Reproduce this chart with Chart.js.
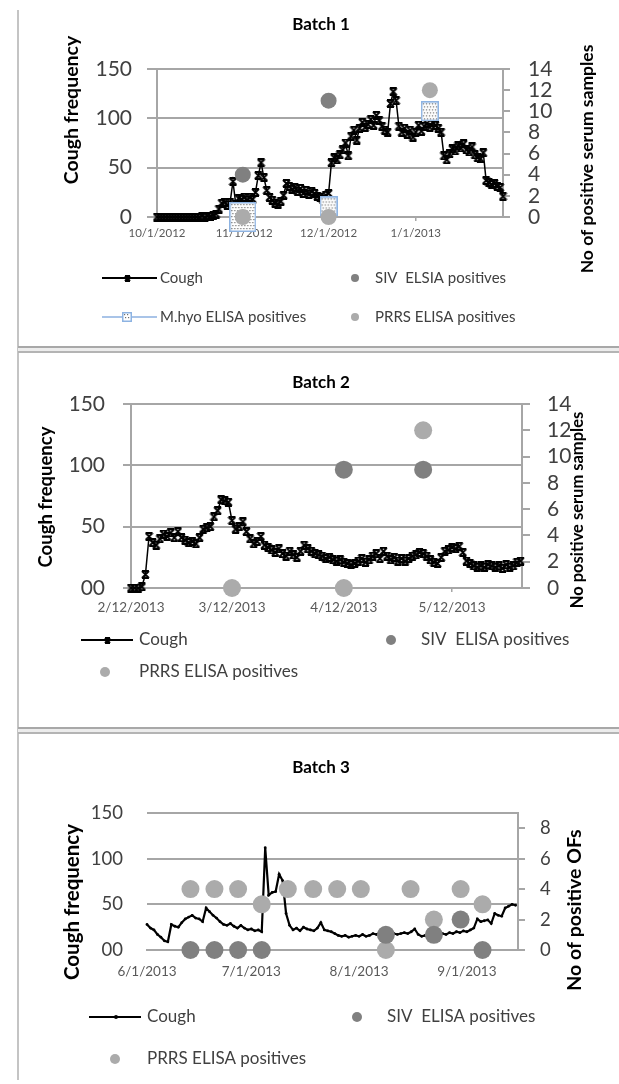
<!DOCTYPE html>
<html>
<head>
<meta charset="utf-8">
<script src="https://cdn.jsdelivr.net/npm/chart.js@4.4.0/dist/chart.umd.min.js"></script>
<style>
html, body { margin: 0; padding: 0; background: #fff; }
#page { position: relative; width: 619px; height: 1084px; overflow: hidden; }
canvas { position: absolute; left: 0; }
.vline { position: absolute; left: 17px; top: 10px; width: 2px; height: 1070px; background: #c4c4c4; }
.sep { position: absolute; left: 18px; width: 601px; height: 7px; box-sizing: border-box;
       border-top: 2px solid #a8a8a8; border-bottom: 2px solid #b4b4b4; background: #ececec; }
</style>
</head>
<body>
<div id="page">
  <canvas id="batch1" width="619" height="345" style="top:0px"></canvas>
  <canvas id="batch2" width="619" height="372" style="top:354px"></canvas>
  <canvas id="batch3" width="619" height="348" style="top:736px"></canvas>
  <div class="vline"></div>
  <div class="sep" style="top:346px"></div>
  <div class="sep" style="top:727px"></div>
</div>
<script>
// ---------- data (x = days since first date label) ----------
const leftTicks = [0, 50, 100, 150];
const leftLabels1 = ['0', '50', '100', '150'];
const leftLabels23 = ['00', '50', '100', '150'];
const serumTicks = [0, 2, 4, 6, 8, 10, 12, 14];
const ofTicks = [0, 2, 4, 6, 8];

// Batch 1
const b1DateLabels = ['10/1/2012', '11/1/2012', '12/1/2012', '1/1/2013'];
const b1DateDays = [0, 31, 61, 92];
const b1Cough = [
  0, 0, 0, 0, 0, 0, 0, 0, 0, 0, 0, 0, 0, 0, 0, 0, 1, 0, 1, 1,
  2, 3, 8, 14, 15, 12, 15, 36, 13, 19, 18, 20, 17, 20, 18, 25, 42, 55, 40, 27,
  20, 17, 14, 13, 16, 22, 34, 31, 28, 30, 26, 29, 24, 27, 23, 26, 24, 21, 20, 18,
  22, 24, 55, 60, 58, 63, 68, 75, 62, 82, 88, 78, 90, 96, 91, 94, 99, 93, 103, 98,
  92, 88, 86, 115, 127, 118, 92, 86, 90, 84, 88, 81, 86, 93, 87, 92, 95, 91, 96, 93,
  90, 86, 62, 58, 64, 69, 67, 72, 70, 74, 68, 66, 71, 63, 60, 59, 65, 37, 35, 33,
  34, 31, 30, 21
];
const b1SivDays = [30.5, 61];
const b1SivVals = [4, 11];
const b1MhyoDays = [30.5, 61, 97];
const b1MhyoVals = [0, 1, 10];
const b1PrrsDays = [30.5, 61, 97];
const b1PrrsVals = [0, 0, 12];

// Batch 2
const b2DateLabels = ['2/12/2013', '3/12/2013', '4/12/2013', '5/12/2013'];
const b2DateDays = [0, 28, 59, 89];
const b2Cough = [
  0, 0, 0, 1, 11, 42, 37, 35, 40, 44, 42, 45, 41, 46, 41, 39, 37, 38, 36, 41,
  48, 49, 50, 58, 63, 72, 71, 70, 55, 48, 50, 54, 46, 40, 36, 38, 42, 35, 33, 31,
  29, 32, 28, 26, 30, 27, 25, 30, 35, 32, 30, 28, 27, 26, 24, 25, 23, 22, 23, 21,
  20, 19, 20, 22, 24, 21, 23, 26, 28, 24, 30, 26, 23, 25, 22, 24, 22, 24, 26, 27,
  29, 28, 26, 23, 21, 20, 25, 30, 31, 33, 32, 34, 29, 22, 20, 18, 17, 18, 17, 19,
  18, 17, 18, 16, 19, 17, 18, 21, 22
];
const b2SivDays = [59, 81];
const b2SivVals = [9, 9];
const b2PrrsDays = [28, 59, 81];
const b2PrrsVals = [0, 0, 12];

// Batch 3
const b3DateLabels = ['6/1/2013', '7/1/2013', '8/1/2013', '9/1/2013'];
const b3DateDays = [0, 30, 61, 92];
const b3Cough = [
  28, 24, 22, 17, 14, 10, 9, 28, 26, 25, 30, 34, 36, 38, 35, 34, 31, 46, 42, 38,
  35, 31, 28, 27, 29, 26, 24, 27, 24, 22, 23, 21, 22, 20, 112, 60, 63, 64, 83, 76,
  40, 27, 22, 24, 21, 25, 23, 22, 21, 24, 30, 22, 21, 20, 18, 16, 15, 16, 14, 15,
  16, 15, 17, 15, 16, 18, 17, 19, 18, 17, 19, 18, 17, 18, 19, 18, 20, 23, 17, 15,
  16, 14, 16, 18, 17, 18, 17, 19, 18, 20, 19, 21, 20, 22, 24, 34, 31, 32, 33, 29,
  40, 38, 37, 46, 48, 50, 49
];
const b3SampleDays = [12.5, 19.4, 26.2, 33, 40.5, 47.8, 54.7, 61.5, 68.7, 75.8, 82.5, 90.2, 96.5];
const b3PrrsVals = [4, 4, 4, 3, 4, 4, 4, 4, 0, 4, 2, 4, 3];
const b3SivVals = [0, 0, 0, 0, null, null, null, null, 1, null, 1, 2, 0];

// ---------- styling helpers ----------
const GRID = '#a6a6a6';
const SIV = '#808080';
const PRRS = '#ababab';
const MHYO = '#8db3e2';
const FONT = 'Lato';

function series(vals) { return vals.map((v, i) => ({ x: i, y: v })); }
function pairs(days, vals) { return days.map((d, i) => ({ x: d, y: vals[i] })); }

function makeXMark(size, lw) {
  const c = document.createElement('canvas');
  c.width = size; c.height = size;
  const g = c.getContext('2d');
  g.strokeStyle = '#000'; g.lineWidth = lw;
  g.beginPath();
  g.moveTo(1, 1); g.lineTo(size - 1, size - 1);
  g.moveTo(size - 1, 1); g.lineTo(1, size - 1);
  g.moveTo(1, 1); g.lineTo(size - 1, 1);
  g.moveTo(1, size - 1); g.lineTo(size - 1, size - 1);
  g.stroke();
  return c;
}

function makeBox(w, h) {
  const c = document.createElement('canvas');
  c.width = w; c.height = h;
  const g = c.getContext('2d');
  g.fillStyle = '#fff'; g.fillRect(0, 0, w, h);
  g.fillStyle = '#6f6f6f';
  for (let y = 2, r = 0; y < h - 2; y += 3, r++) {
    for (let x = 2 + (r % 2); x < w - 2; x += 3) g.fillRect(x, y, 1.2, 1.2);
  }
  g.strokeStyle = MHYO; g.lineWidth = 1.5;
  g.strokeRect(0.75, 0.75, w - 1.5, h - 1.5);
  return c;
}

const xMark = makeXMark(9, 1.8);
const xMarkLegend = makeXMark(7, 2);
const boxBig = makeBox(27, 30);
const boxSmall = makeBox(18, 20);
const boxLegend = makeBox(10, 10);

function yAxis(o) {
  return {
    position: o.pos, min: o.min, max: o.max,
    afterFit: s => { s.width = 60; },
    afterBuildTicks: s => { s.ticks = o.ticks.map(v => ({ value: v })); },
    grid: { display: true, drawOnChartArea: o.grid, drawTicks: o.tickLen > 0, tickLength: o.tickLen,
            color: GRID, lineWidth: 2 },
    border: { display: o.border, color: GRID, width: 2 },
    ticks: { padding: o.pad, color: '#404040', font: { family: FONT, size: o.size },
             autoSkip: false, callback: (v, i) => o.labels[i] }
  };
}

function xAxis(o) {
  return {
    type: 'linear', position: 'bottom', min: o.min, max: o.max,
    afterFit: s => { s.height = 30; },
    afterBuildTicks: s => { s.ticks = o.ticks.map(v => ({ value: v })); },
    grid: { display: true, drawOnChartArea: false, drawTicks: o.tickLen > 0, tickLength: o.tickLen,
            color: GRID, lineWidth: 1.5 },
    border: { display: true, color: GRID, width: 2 },
    ticks: { padding: o.pad, color: '#595959', font: { family: FONT, size: o.size },
             maxRotation: 0, autoSkip: false, callback: (v, i) => o.labels[i] }
  };
}

function dots(data, color, r, order) {
  return { data: data, yAxisID: 'y2', order: order, clip: false,
           pointStyle: 'circle', pointRadius: r, pointHoverRadius: r,
           pointBackgroundColor: color, pointBorderColor: color, pointBorderWidth: 0 };
}

// titles, axis titles and legend drawn inside the canvas
function panelText(conf) {
  return {
    id: 'panelText',
    afterDraw(chart) {
      const ctx = chart.ctx, oy = conf.offset;
      ctx.save();
      ctx.textBaseline = 'middle';
      ctx.fillStyle = '#000';
      ctx.textAlign = 'center';
      ctx.font = 'bold ' + conf.title.size + 'px ' + FONT;
      ctx.fillText(conf.title.text, conf.title.x, conf.title.y - oy);
      conf.axisTitles.forEach(t => {
        ctx.save();
        ctx.translate(t.x, t.y - oy);
        ctx.rotate(-Math.PI / 2);
        ctx.font = 'bold ' + t.size + 'px ' + FONT;
        ctx.textAlign = 'center';
        ctx.fillStyle = '#000';
        ctx.fillText(t.text, 0, 0);
        ctx.restore();
      });
      conf.legend.forEach(it => {
        const y = it.y - oy;
        if (it.line) {
          ctx.strokeStyle = it.line; ctx.lineWidth = it.lineWidth;
          ctx.beginPath(); ctx.moveTo(it.x1, y); ctx.lineTo(it.x2, y); ctx.stroke();
        }
        if (it.img) ctx.drawImage(it.img, Math.round(it.mx - it.img.width / 2), Math.round(y - it.img.height / 2));
        if (it.dot) {
          ctx.fillStyle = it.dot;
          ctx.beginPath(); ctx.arc(it.mx, y, it.r, 0, Math.PI * 2); ctx.fill();
        }
        ctx.fillStyle = '#404040';
        ctx.font = conf.legendSize + 'px ' + FONT;
        ctx.textAlign = 'left';
        ctx.fillText(it.text, it.tx, y);
      });
      ctx.restore();
    }
  };
}

const common = {
  responsive: false, animation: false, events: [],
  plugins: { legend: { display: false }, tooltip: { enabled: false } }
};

// ---------- Batch 1 ----------
new Chart(document.getElementById('batch1'), {
  type: 'scatter',
  data: {
    datasets: [
      dots(pairs(b1SivDays, b1SivVals), SIV, 8, 1),
      dots(pairs(b1PrrsDays, b1PrrsVals), PRRS, 8, 2),
      { data: pairs(b1MhyoDays, b1MhyoVals), yAxisID: 'y2', order: 3, clip: false,
        pointStyle: [boxBig, boxSmall, boxSmall], pointRadius: 9 },
      { data: series(b1Cough), yAxisID: 'y', order: 4, clip: false, showLine: true,
        borderColor: '#000', borderWidth: 1.5, pointStyle: xMark, pointRadius: 4 }
    ]
  },
  options: Object.assign({}, common, {
    layout: { autoPadding: false, padding: { left: 97, right: 56, top: 69, bottom: 98 } },
    scales: {
      x: xAxis({ min: 0, max: 123, ticks: b1DateDays, labels: b1DateLabels, tickLen: 4, pad: 5, size: 11.5 }),
      y: yAxis({ pos: 'left', min: 0, max: 150, ticks: leftTicks, labels: leftLabels1, grid: true,
                 border: true, tickLen: 10, pad: 15, size: 21 }),
      y2: yAxis({ pos: 'right', min: 0, max: 14, ticks: serumTicks, labels: serumTicks.map(String), grid: false,
                  border: true, tickLen: 7, pad: 18, size: 21 })
    }
  }),
  plugins: [panelText({
    offset: 0,
    title: { text: 'Batch 1', x: 321, y: 25, size: 17 },
    axisTitles: [
      { text: 'Cough frequency', x: 72, y: 110, size: 19.5 },
      { text: 'No of positive serum samples', x: 587, y: 159, size: 17.5 }
    ],
    legendSize: 15,
    legend: [
      { text: 'Cough', y: 278, x1: 102, x2: 157, line: '#000', lineWidth: 2, img: xMarkLegend, mx: 127, tx: 160 },
      { text: 'SIV  ELSIA positives', y: 278, dot: SIV, r: 4, mx: 355, tx: 375 },
      { text: 'M.hyo ELISA positives', y: 317, x1: 102, x2: 157, line: '#a9c4e8', lineWidth: 2, img: boxLegend, mx: 127, tx: 160 },
      { text: 'PRRS ELISA positives', y: 317, dot: PRRS, r: 4, mx: 355, tx: 375 }
    ]
  })]
});

// ---------- Batch 2 ----------
new Chart(document.getElementById('batch2'), {
  type: 'scatter',
  data: {
    datasets: [
      dots(pairs(b2SivDays, b2SivVals), SIV, 9, 1),
      dots(pairs(b2PrrsDays, b2PrrsVals), PRRS, 9, 2),
      { data: series(b2Cough), yAxisID: 'y', order: 4, clip: false, showLine: true,
        borderColor: '#000', borderWidth: 1.5, pointStyle: xMark, pointRadius: 4 }
    ]
  },
  options: Object.assign({}, common, {
    layout: { autoPadding: false, padding: { left: 71, right: 37, top: 50, bottom: 108 } },
    scales: {
      x: xAxis({ min: 0, max: 108.4, ticks: b2DateDays, labels: b2DateLabels, tickLen: 4, pad: 8, size: 13.5 }),
      y: yAxis({ pos: 'left', min: 0, max: 150, ticks: leftTicks, labels: leftLabels23, grid: true,
                 border: true, tickLen: 8, pad: 18, size: 21 }),
      y2: yAxis({ pos: 'right', min: 0, max: 14, ticks: serumTicks, labels: serumTicks.map(String), grid: false,
                  border: true, tickLen: 8, pad: 17, size: 21 })
    }
  }),
  plugins: [panelText({
    offset: 354,
    title: { text: 'Batch 2', x: 321, y: 383, size: 17 },
    axisTitles: [
      { text: 'Cough frequency', x: 46, y: 497, size: 18.5 },
      { text: 'No positive serum samples', x: 578, y: 510, size: 16.5 }
    ],
    legendSize: 17,
    legend: [
      { text: 'Cough', y: 640, x1: 81, x2: 133, line: '#000', lineWidth: 2, img: xMarkLegend, mx: 107, tx: 139 },
      { text: 'SIV  ELISA positives', y: 640, dot: SIV, r: 5, mx: 391, tx: 421 },
      { text: 'PRRS ELISA positives', y: 672, dot: PRRS, r: 5, mx: 105, tx: 139 }
    ]
  })]
});

// ---------- Batch 3 ----------
new Chart(document.getElementById('batch3'), {
  type: 'scatter',
  data: {
    datasets: [
      dots(pairs(b3SampleDays, b3SivVals), SIV, 9, 1),
      dots(pairs(b3SampleDays, b3PrrsVals), PRRS, 9, 2),
      { data: series(b3Cough), yAxisID: 'y', order: 4, clip: false, showLine: true,
        borderColor: '#000', borderWidth: 2.2, pointStyle: 'circle', pointRadius: 1.4,
        pointBackgroundColor: '#000', pointBorderColor: '#000', pointBorderWidth: 0 }
    ]
  },
  options: Object.assign({}, common, {
    layout: { autoPadding: false, padding: { left: 87, right: 41, top: 77, bottom: 104 } },
    scales: {
      x: xAxis({ min: 0, max: 106.7, ticks: b3DateDays, labels: b3DateLabels, tickLen: 0, pad: 14, size: 13.5 }),
      y: yAxis({ pos: 'left', min: 0, max: 150, ticks: leftTicks, labels: leftLabels23, grid: true,
                 border: false, tickLen: 0, pad: 24, size: 18.5 }),
      y2: yAxis({ pos: 'right', min: 0, max: 9, ticks: ofTicks, labels: ofTicks.map(String), grid: false,
                  border: true, tickLen: 7, pad: 15, size: 18.5 })
    }
  }),
  plugins: [panelText({
    offset: 736,
    title: { text: 'Batch 3', x: 321, y: 768, size: 17 },
    axisTitles: [
      { text: 'Cough frequency', x: 72, y: 902, size: 20.5 },
      { text: 'No of positive OFs', x: 575, y: 910, size: 19.5 }
    ],
    legendSize: 17,
    legend: [
      { text: 'Cough', y: 1017, x1: 89, x2: 141, line: '#000', lineWidth: 2, dot: '#000', r: 2, mx: 116, tx: 147 },
      { text: 'SIV  ELISA positives', y: 1017, dot: SIV, r: 5, mx: 357, tx: 387 },
      { text: 'PRRS ELISA positives', y: 1059, dot: PRRS, r: 5, mx: 115, tx: 147 }
    ]
  })]
});
</script>
</body>
</html>
